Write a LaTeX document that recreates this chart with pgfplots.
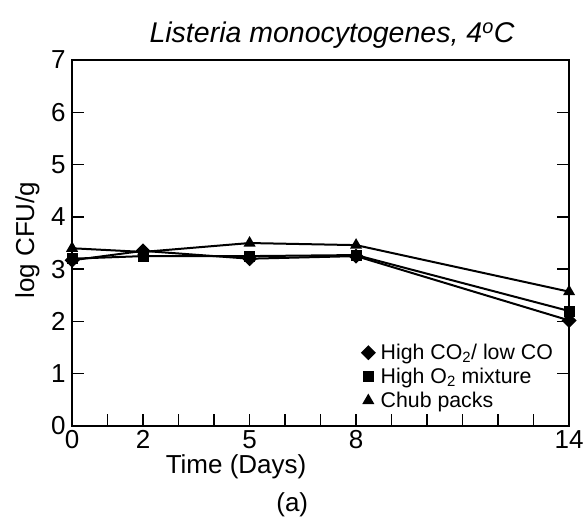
\documentclass[border=0pt]{standalone}
\usepackage{fontspec}
\setmainfont{Liberation Sans}
\usepackage{pgfplots}
\pgfplotsset{compat=1.18}
\begin{document}
\begin{tikzpicture}
\begin{axis}[
    scale only axis,
    width=497pt,
    height=366pt,
    xmin=0, xmax=14,
    ymin=0, ymax=7,
    xtick={0,1,...,14},
    xticklabels={0,,2,,,5,,,8,,,,,,14},
    ytick={0,1,...,7},
    tick align=inside,
    major tick length=12pt,
    xtick pos=bottom,
    ytick pos=both,
    axis line style={line width=1.6pt},
    tick style={line width=1.4pt, black},
    /pgf/number format/assume math mode=true,
    tick label style={font=\fontsize{26}{29}\selectfont},
    xticklabel style={yshift=-1pt},
    yticklabel style={xshift=-3pt},
    legend style={draw=none, fill=none, at={(rel axis cs:0.575,0.235)}, anchor=north west,
        font=\fontsize{21.3}{24}\selectfont, row sep=3pt},
    legend image code/.code={\path (0,0) (0.55cm,0); \draw[#1] plot coordinates {(0.22cm,0cm)};},
    legend cell align=left,
    clip=false,
]
\addplot[black, line width=2pt, mark=square*, mark size=4.3pt, mark options={rotate=45}] coordinates {
    (0,3.17) (2,3.35) (5,3.20) (8,3.25) (14,2.02)};
\addplot[black, line width=2pt, mark=square*, mark size=4.5pt] coordinates {
    (0,3.20) (2,3.25) (5,3.25) (8,3.27) (14,2.20)};
\addplot[black, line width=2pt, mark=triangle*, mark size=5pt] coordinates {
    (0,3.40) (2,3.33) (5,3.50) (8,3.46) (14,2.57)};
\legend{High CO\textsubscript{2}/ low CO, High O\textsubscript{2} mixture, Chub packs}
\node[font=\itshape\fontsize{28.5}{32}\selectfont] at (rel axis cs:0.523,1.068) {Listeria monocytogenes, 4\textsuperscript{o}C};
\node[font=\fontsize{26}{29}\selectfont] at (rel axis cs:0.33,-0.112) {Time (Days)};
\node[font=\fontsize{26}{29}\selectfont] at (rel axis cs:0.443,-0.216) {(a)};
\node[font=\fontsize{26}{29}\selectfont, rotate=90] at (rel axis cs:-0.09,0.508) {log CFU/g};
\coordinate (bbl) at (rel axis cs:-0.145,-0.265);
\coordinate (btr) at (rel axis cs:1.030,1.164);
\end{axis}
\pgfresetboundingbox
\path (bbl) rectangle (btr);
\end{tikzpicture}
\end{document}
